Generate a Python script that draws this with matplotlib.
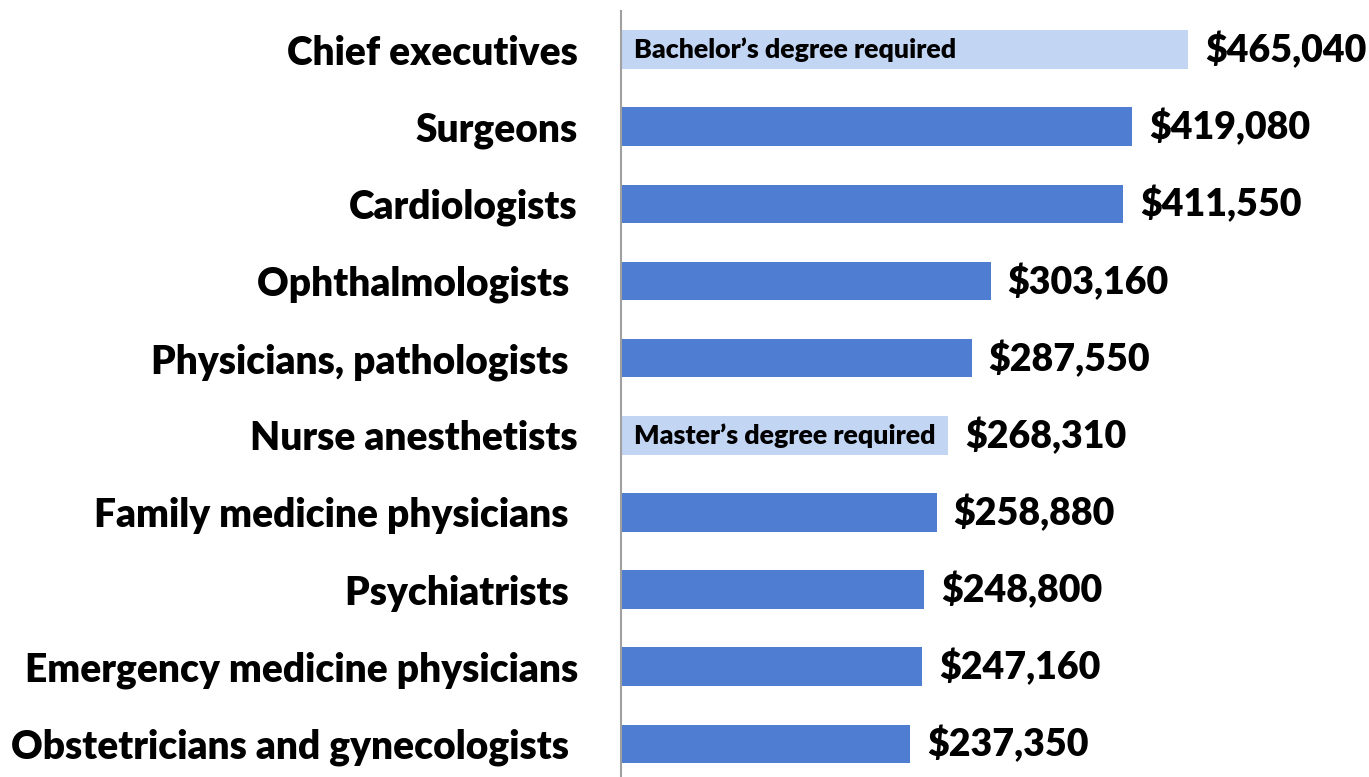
import matplotlib
matplotlib.use("Agg")
import matplotlib.pyplot as plt

plt.rcParams['font.family'] = ['Lato', 'DejaVu Sans']

occupations = ["Chief executives", "Surgeons", "Cardiologists", "Ophthalmologists ",
               "Physicians, pathologists ", "Nurse anesthetists", "Family medicine physicians ",
               "Psychiatrists ", "Emergency medicine physicians", "Obstetricians and gynecologists "]
wages = [465040, 419080, 411550, 303160, 287550, 268310, 258880, 248800, 247160, 237350]
notes = {0: "Bachelor\u2019s degree required", 5: "Master\u2019s degree required"}

dark = "#4E7DD1"
light = "#C2D5F3"
colors = [light if i in notes else dark for i in range(len(wages))]

W, H = 1369, 777
fig = plt.figure(figsize=(W / 100, H / 100), dpi=100)
ax = fig.add_axes([621 / W, 0, (1369 - 621) / W, (777 - 11) / H])

y = list(range(len(wages)))
ax.barh(y, wages, height=0.5, color=colors)
ax.set_xlim(0, 1.0 * 748 / 0.001219)
ax.set_ylim(9.43, -0.5)
ax.set_yticks(y)
ax.set_yticklabels(occupations, fontsize=28, fontweight='heavy')
ax.tick_params(axis='y', length=0, pad=31)
ax.set_xticks([])
for s in ['top', 'right', 'bottom']:
    ax.spines[s].set_visible(False)
ax.spines['left'].set_color('#A0A0A0')
ax.spines['left'].set_linewidth(1.5)

for i, v in enumerate(wages):
    ax.text(v + 14000, i, f"${v:,}", va='center', ha='left', fontsize=27,
            fontweight='heavy', clip_on=False)
    if i in notes:
        ax.text(11000, i, notes[i], va='center', ha='left', fontsize=19.3, fontweight='heavy')

fig.savefig("out.png", dpi=100)
